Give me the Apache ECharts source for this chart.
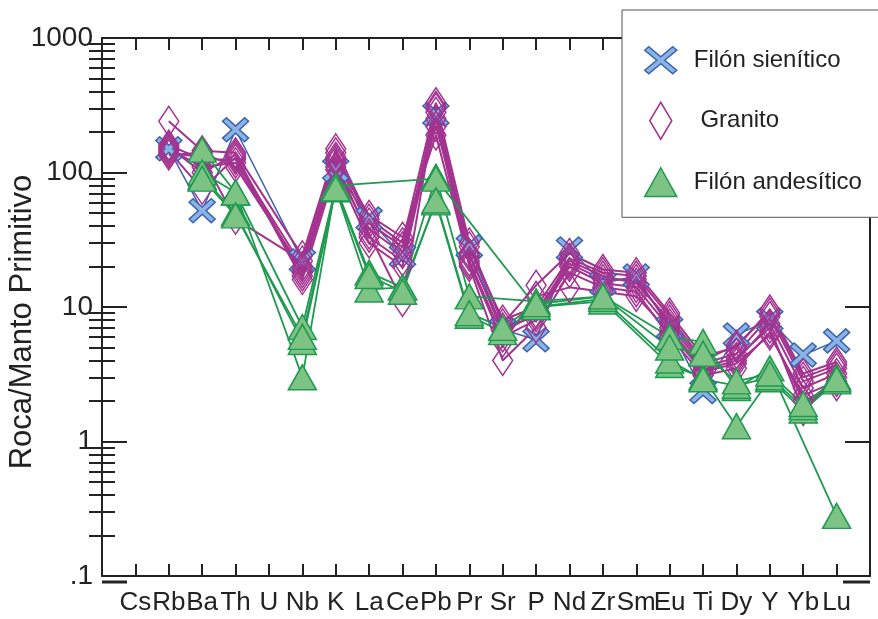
<!DOCTYPE html>
<html>
<head>
<meta charset="utf-8">
<title>Diagrama multielemental</title>
<script src="https://cdn.jsdelivr.net/npm/echarts@6/dist/echarts.min.js"></script>
<style>
  html, body { margin: 0; padding: 0; background: #fff; }
  #chart { width: 878px; height: 619px; }
</style>
</head>
<body>
<div id="chart"></div>
<script>
// elementos del diagrama (Cs y U sin datos)
const elements = ['Cs', 'Rb', 'Ba', 'Th', 'U', 'Nb', 'K', 'La', 'Ce', 'Pb', 'Pr', 'Sr', 'P', 'Nd', 'Zr', 'Sm', 'Eu', 'Ti', 'Dy', 'Y', 'Yb', 'Lu']
const yTickLabels = [0.1, 1, 10, 100, 1000]

// Filón sienítico
const sienitico = [
  [null, 150, 52, 208, null, 22, 105, 45, 24, 270, 28, 6.8, 5.7, 27, 15, 17, 7, 2.35, 6.2, 8, 4.4, 5.6]
]

// Granito
const granito = [
  [null, 240, 145, 140, null, 24, 150, 45, 30, 330, 30, 7.5, 14.5, 25, 19, 18, 9, 4.3, 5, 9.5, 3.2, 3.9],
  [null, 160, 125, 125, null, 20, 130, 38, 25, 300, 25, 6.5, 9, 22, 17, 15, 8, 3.8, 4.5, 8.5, 2.8, 3.5],
  [null, 150, 110, 118, null, 18, 120, 33, 22, 280, 22, 6, 8, 20, 15, 14, 7, 3.4, 4, 7.5, 2.5, 3.2],
  [null, 145, 75, 130, null, 16, 105, 30, 20, 250, 20, 4, 7, 18, 14, 13, 6, 3.1, 3.5, 6.5, 2.0, 2.6],
  [null, 140, 130, 45, null, 22, 140, 42, 28, 220, 28, 8, 10, 23, 18, 17, 8.5, 4, 5.2, 9, 3, 3.7],
  [null, 135, 140, 110, null, 19, 110, 35, 11, 310, 24, 7, 8.5, 21, 16, 16, 7.5, 3.6, 4.2, 7, 1.7, 3],
  [null, 155, 100, 135, null, 17, 125, 48, 33, 190, 21, 5.5, 12, 14, 13, 12, 6.5, 3.3, 3.8, 6.2, 2.2, 2.8]
]

// Filón andesítico
const andesitico = [
  [null, null, 148, 71, null, 7.1, 78, 18, 14, 93, 12, null, 11, null, 12, null, 6, 5.5, 2.5, 3.5, null, 0.28],
  [null, null, 93, 50, null, 5.5, 75, 13.5, 14, 60, 8.6, 6.5, 10, null, 11, null, 3.7, 3.0, 1.3, 2.9, 1.7, 2.8],
  [null, null, 100, 71, null, 3.0, 80, null, null, 90, null, null, 10, null, 11.5, null, 4, 2.9, 2.6, 3.0, 1.8, 3],
  [null, null, 90, 48, null, 6, 76, 17, 13, 62, 9, 7, 10.5, null, 12, null, 5, 4.5, 2.8, 3.2, 1.9, 2.9]
]

const font = '"Liberation Sans", Arial, sans-serif'
const ink = '#222'

const purple = '#a3338f'
const blue = '#3d62ad'
const blueFill = '#8ab4e6'
const green = '#1f9a50'
const greenFill = '#7dc383'

const crossSymbol = 'path://M0,3L3,0L10,7L17,0L20,3L13,10L20,17L17,20L10,13L3,20L0,17L7,10Z'
const crossIcon = 'path://M0,3.5L4,0L16,10L28,0L32,3.5L20,13.5L32,23.5L28,27L16,17L4,27L0,23.5L12,13.5Z'
const diamondIcon = 'path://M11,0L22,18.5L11,37L0,18.5Z'
const triangleIcon = 'path://M15,0L30,27L0,27Z'

// posiciones de los elementos en el eje x (1..22)
const xTicks = elements.map((e, i) => i + 1)
// marcas menores de la escala log (2..9 en cada década), en espacio log10
const minorTicks = []
for (let d = -1; d < 3; d++) {
  for (let m = 2; m <= 9; m++) minorTicks.push(d + Math.log10(m))
}

const toPoints = values => values.map((v, i) => [i + 1, v]).filter(p => p[1] != null)

const lineSeries = (name, values, color, width, symbol, size, fill) => ({
  name,
  type: 'line',
  xAxisIndex: 0,
  yAxisIndex: 0,
  data: toPoints(values),
  symbol,
  symbolSize: size,
  showAllSymbol: true,
  lineStyle: { color, width },
  itemStyle: { color: fill, borderColor: color, borderWidth: 1.5 },
  emphasis: { disabled: true },
  animation: false
})

// orden de dibujo: sienítico debajo, andesítico encima
const series = [
  ...sienitico.map(v => lineSeries('Filón sienítico', v, blue, 1.5, crossSymbol, [26, 24], blueFill)),
  ...granito.map(v => lineSeries('Granito', v, purple, 2, 'diamond', [20, 30], 'rgba(255,255,255,0)')),
  ...andesitico.map(v => lineSeries('Filón andesítico', v, green, 1.8, 'triangle', [28, 25], greenFill))
]

const axisLine = { show: true, onZero: false, lineStyle: { color: ink, width: 2 } }
const tickLine = { color: ink, width: 2 }

const chart = echarts.init(document.getElementById('chart'))
chart.setOption({
  backgroundColor: '#fff',
  animation: false,
  grid: { left: 102, right: 8, top: 38, bottom: 43, outerBoundsMode: 'none', containLabel: false },
  xAxis: [
    {
      type: 'value', min: 0, max: 23, position: 'bottom',
      axisLine,
      axisTick: { inside: true, length: 12, customValues: xTicks, lineStyle: tickLine },
      axisLabel: {
        customValues: xTicks, formatter: v => elements[Math.round(v) - 1],
        showMinLabel: true, showMaxLabel: true, hideOverlap: false,
        fontFamily: font, fontSize: 26, color: ink, margin: 14
      },
      splitLine: { show: false }
    },
    {
      type: 'value', min: 0, max: 23, position: 'top',
      axisLine,
      axisTick: { inside: true, length: 12, customValues: xTicks, lineStyle: tickLine },
      axisLabel: { show: false },
      splitLine: { show: false }
    }
  ],
  yAxis: [
    {
      type: 'log', logBase: 10, min: 0.1, max: 1000, position: 'left',
      name: 'Roca/Manto Primitivo', nameLocation: 'middle', nameGap: 64, nameMoveOverlap: false,
      nameTextStyle: { fontFamily: font, fontSize: 31, color: ink, padding: [0, 30, 0, 0] },
      axisLine,
      axisTick: { inside: true, length: 25, lineStyle: tickLine },
      axisLabel: {
        fontFamily: font, fontSize: 28, color: ink, margin: 9,
        showMinLabel: true, showMaxLabel: true,
        formatter: v => (v < 1 ? '.1' : String(Math.round(v)))
      },
      splitLine: { show: false }
    },
    {
      type: 'value', min: -1, max: 3, position: 'left',
      axisLine: { show: false },
      axisTick: { inside: true, length: 13, customValues: minorTicks, lineStyle: tickLine },
      axisLabel: { show: false },
      splitLine: { show: false }
    },
    {
      type: 'log', logBase: 10, min: 0.1, max: 1000, position: 'right',
      axisLine,
      axisTick: { inside: true, length: 25, lineStyle: tickLine },
      axisLabel: { show: false },
      splitLine: { show: false }
    },
    {
      type: 'value', min: -1, max: 3, position: 'right',
      axisLine: { show: false },
      axisTick: { inside: true, length: 13, customValues: minorTicks, lineStyle: tickLine },
      axisLabel: { show: false },
      splitLine: { show: false }
    }
  ],
  legend: {
    orient: 'vertical', left: 622, top: 10,
    padding: [36, 20, 20, 22],
    itemWidth: 32, itemHeight: 37, itemGap: 27,
    backgroundColor: '#fff', borderColor: '#555', borderWidth: 1,
    selectedMode: false,
    textStyle: { fontFamily: font, fontSize: 24, color: ink, padding: [0, 0, 0, 12] },
    formatter: n => (n === 'Granito' ? ' Granito' : n),
    data: [
      { name: 'Filón sienítico', icon: crossIcon, itemStyle: { color: blueFill, borderColor: blue, borderWidth: 1.5 } },
      { name: 'Granito', icon: diamondIcon, itemStyle: { color: 'rgba(255,255,255,0)', borderColor: purple, borderWidth: 1.5 } },
      { name: 'Filón andesítico', icon: triangleIcon, itemStyle: { color: greenFill, borderColor: green, borderWidth: 1.5 } }
    ]
  },
  graphic: [
    { type: 'line', shape: { x1: 102, y1: 582, x2: 127, y2: 582 }, style: { stroke: ink, lineWidth: 3 } },
    { type: 'line', shape: { x1: 843, y1: 582, x2: 870, y2: 582 }, style: { stroke: ink, lineWidth: 3 } }
  ],
  series
})
</script>
</body>
</html>
